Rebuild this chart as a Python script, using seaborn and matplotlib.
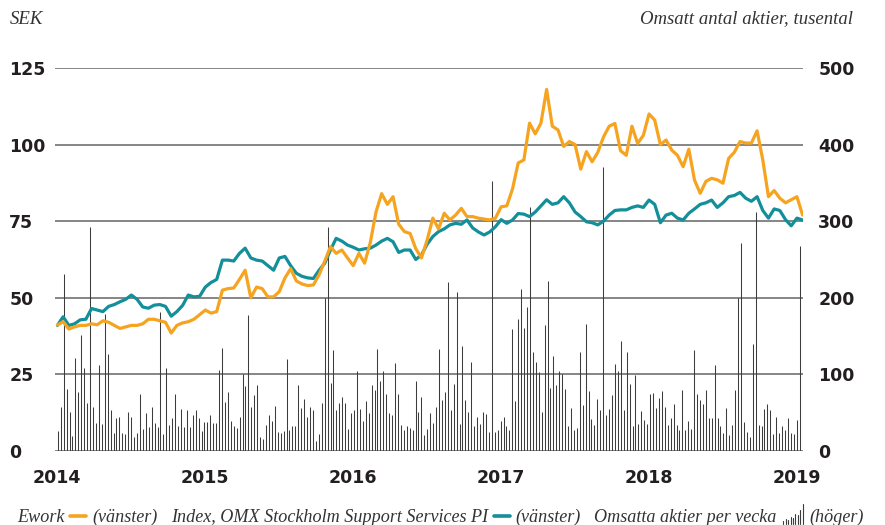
import pandas as pd
import seaborn as sns
import matplotlib.pyplot as plt
from matplotlib.lines import Line2D

# Ework share price, SEK (left axis), roughly every second week
ework = [41.1, 42.2, 39.8, 40.5, 41, 41, 41.5, 41.2, 42.5, 42,
         41, 40, 40.5, 41, 41, 41.5, 43, 43, 42.5, 42,
         38.5, 41, 41.8, 42.2, 43, 44.5, 46, 45, 45.5, 52.5,
         53, 53.2, 56, 59, 50, 53.5, 53, 50.3, 50.3, 52,
         56.5, 59.5, 55.5, 54.5, 54, 54.2, 57.5, 62, 66.7, 64.5,
         65.6, 63, 60.5, 64.5, 61.3, 68, 78, 84, 80.5, 83,
         74, 71.6, 71, 66, 63, 68.9, 76, 72.5, 77.6, 75.4,
         77, 79.2, 76.5, 76.5, 76, 75.7, 75.4, 76, 79.7, 80,
         85.5, 94, 95, 107, 103.5, 107, 118, 106, 104.8, 99.4,
         101, 100, 92, 97.7, 94.4, 97.5, 102.5, 106, 106.9, 98,
         96.5, 106, 100.4, 103, 110, 108, 100, 101.5, 98.2, 96.5,
         92.8, 98.5, 88.4, 84.1, 88, 89, 88.5, 87.4, 95.5, 97.5,
         101, 100.5, 100.5, 104.5, 95, 83, 85, 82.5, 81, 82,
         83, 77]

# Index, OMX Stockholm Support Services PI (left axis)
index_pi = [41, 43.8, 41, 41.5, 42.8, 43, 46.5, 46, 45.5, 47.2,
            47.8, 48.7, 49.5, 50.9, 49.5, 47, 46.6, 47.6, 47.8, 47.2,
            44, 45.5, 47.5, 50.9, 50.3, 50.5, 53.5, 55, 56, 62.3,
            62.3, 62, 64.5, 66.2, 63, 62.3, 62, 60.5, 59, 63,
            63.5, 60.5, 58, 57, 56.5, 56.3, 59, 61.3, 65.6, 69.4,
            68.5, 67.2, 66.5, 65.6, 66, 66.2, 67.2, 68.5, 69.4, 68.3,
            64.8, 65.6, 65.6, 62.5, 64, 67.5, 70, 71.6, 72.5, 73.8,
            74.3, 74, 75.4, 72.8, 71.5, 70.5, 71.5, 73.2, 75.5, 74.3,
            75.4, 77.5, 77.3, 76.5, 78, 80, 82, 80.5, 81, 83,
            81, 78, 76.5, 74.8, 74.5, 73.8, 75, 77, 78.5, 78.7,
            78.7, 79.5, 80, 79.5, 81.9, 80.5, 74.5, 77, 77.6, 76,
            75.4, 77.6, 79, 80.5, 81, 81.9, 79.5, 81, 83, 83.4,
            84.4, 82.5, 81.5, 83, 78.5, 76, 79, 78.5, 75.5, 73.5,
            76, 75.4]

# shares traded per week, thousands (right axis)
volume = [26, 57, 231, 80.5, 51, 19, 122, 77, 151, 109, 63, 292, 58, 37, 112, 35,
          179, 126, 53, 23.5, 43, 45, 23.5, 22, 50.5, 45, 18, 24, 74, 29, 50, 31,
          57, 37, 31, 182, 22, 109, 34, 43, 74, 33, 55, 31, 54, 31, 47, 53.5,
          43.5, 26, 38, 38, 47, 36, 36, 106, 135, 64, 77, 39, 32, 30, 44, 100,
          84.5, 177, 57,
          72.7, 86, 18, 16, 33.5, 47, 39, 59, 25, 23, 26, 120.6, 27, 32, 32, 86,
          56.6, 68, 44, 58, 54, 13, 22, 63, 200, 292, 89, 131.5, 53, 63, 71, 63,
          29, 50, 54, 104, 55, 39, 65, 50, 86, 79, 133.7, 91, 105, 74, 50, 47.5,
          115, 75, 33.5, 27, 32, 30.5, 27, 92, 51, 71, 21, 29, 50, 36, 58, 133.7,
          67, 77, 220, 53, 87, 207, 35, 137, 66, 51,
          116, 32, 45, 35.7, 51, 48, 25, 352, 25, 28, 39, 45, 32, 28, 159, 65,
          172, 211, 160.6, 188, 319, 129, 116, 103, 51, 164, 221.5, 82.7, 124, 86, 104, 101,
          80.5, 32, 56.6, 28, 30, 129, 59.7, 166, 78, 42, 33.5, 68, 54, 370.8, 46.6, 55,
          72.7, 114, 104, 143, 53, 129, 87, 32, 99.7, 35, 52, 40, 35, 74, 75.7, 56.6,
          69.7, 78, 58, 33.5, 43.6,
          62, 33.5, 28, 79, 28, 38.7, 29, 132, 74, 66, 62, 80, 43.6, 43.6, 112, 43.6,
          32, 23.5, 56.6, 20.5, 33.5, 79, 200, 271.5, 38, 25, 18, 140, 312, 33.5, 32, 55,
          61, 53, 22, 45, 23.5, 32, 27, 43.6, 23.5, 22, 40, 267, 179]

years = ['2014', '2015', '2016', '2017', '2018', '2019']

line_dates = pd.date_range('2014-01-02', '2019-01-15', periods=len(ework))
bar_dates = pd.date_range('2014-01-03', '2019-01-15', periods=len(volume))

df = pd.DataFrame({'date': line_dates, 'Ework': ework, 'Index': index_pi})

ORANGE = '#F6A420'
TEAL = '#138F9A'
BAR = '#3c3c3c'
GRID = '#7c7c7c'
INK = '#231f20'

sns.set_theme(style='white')
plt.rcParams['font.family'] = ['DejaVu Sans']

W, H = 885, 525
fig = plt.figure(figsize=(W / 100, H / 100), dpi=100)
ax = fig.add_axes([55 / W, 74 / H, 748 / W, 383 / H])
ax2 = ax.twinx()
ax.set_zorder(ax2.get_zorder() + 1)
ax.patch.set_visible(False)

# weekly volume as thin bars on the right axis
bars = ax2.vlines(bar_dates, 0, volume, color=BAR, lw=0.75, zorder=2)
bars.set_snap(True)
ax2.set_ylim(0, 500)
ax2.set_yticks(range(0, 501, 100))
ax2.yaxis.grid(True, color=GRID, lw=1.3, zorder=0)
ax2.set_axisbelow(True)

sns.lineplot(data=df, x='date', y='Index', ax=ax, color=TEAL, lw=2.3)
sns.lineplot(data=df, x='date', y='Ework', ax=ax, color=ORANGE, lw=2.3)
ax.set_ylim(0, 125)
ax.set_yticks(range(0, 126, 25))
ax.grid(False)

ax.set_xlim(pd.Timestamp('2013-12-27'), pd.Timestamp('2019-01-16'))
ax.set_xticks([pd.Timestamp(y + '-01-01') for y in years])
ax.set_xticklabels(years)
ax.set_xlabel('')
ax.set_ylabel('')
ax2.set_ylabel('')

for a in (ax, ax2):
    for s in a.spines.values():
        s.set_visible(False)

tick_font = dict(family='DejaVu Sans', weight='bold', size=12.5)
ax.tick_params(axis='y', length=0, pad=33, labelcolor=INK)
ax.tick_params(axis='x', length=0, pad=13, labelcolor=INK)
ax2.tick_params(axis='y', length=0, pad=11, labelcolor=INK)
for lab in ax.get_yticklabels():
    lab.set_ha('left')
    lab.set(**tick_font)
for lab in ax.get_xticklabels() + ax2.get_yticklabels():
    lab.set(**tick_font)

serif = dict(family='Liberation Serif', style='italic', color='#333333')
fig.text(10 / W, 1 - 19 / H, 'SEK', size=13.5, va='center', **serif)
fig.text(853 / W, 1 - 19 / H, 'Omsatt antal aktier, tusental', size=13.5,
         va='center', ha='right', **serif)

# legend row along the bottom
renderer = fig.canvas.get_renderer()
ly = 1 - 517 / H
x = 17.0


def put(s, x):
    t = fig.text(x / W, ly, s, size=13.1, va='center', **serif)
    return t.get_window_extent(renderer).x1


def dash(x, color):
    fig.add_artist(Line2D([(x + 6) / W, (x + 22) / W], [ly + 1 / H, ly + 1 / H],
                          color=color, lw=2.6, transform=fig.transFigure))
    return x + 28


x = put('Ework', x)
x = dash(x, ORANGE)
x = put('(vänster)', x) + 13
x = put('Index, OMX Stockholm Support Services PI', x)
x = dash(x, TEAL)
x = put('(vänster)', x) + 13
x = put('Omsatta aktier per vecka', x)
icon = [3, 5, 4, 7, 6, 10, 9, 14, 20]
for i, h in enumerate(icon):
    xx = x + 7 + i * 2.4
    fig.add_artist(Line2D([xx / W, xx / W], [(H - 524) / H, (H - 524 + h) / H],
                          color=BAR, lw=0.8, transform=fig.transFigure))
x = x + 7 + len(icon) * 2.4 + 4
put('(höger)', x)

fig.savefig('out.png', dpi=100)
